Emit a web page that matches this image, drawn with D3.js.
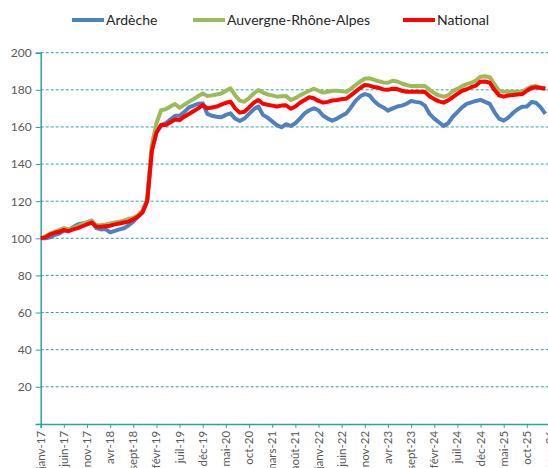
<!DOCTYPE html>
<html>
<head>
<meta charset="utf-8">
<script src="https://cdnjs.cloudflare.com/ajax/libs/d3/7.8.5/d3.min.js"></script>
<style>
  body { margin: 0; background: #fff; }
  svg { display: block; font-family: Lato, "Open Sans", sans-serif; }
</style>
</head>
<body>
<div id="chart"></div>
<script>
// month names used for the category axis (janv-17 ... mars-26)
const monthNames = ["janv", "févr", "mars", "avr", "mai", "juin", "juil", "août", "sept", "oct", "nov", "déc"];
const months = d3.range(111).map(i => monthNames[i % 12] + "-" + (17 + Math.floor(i / 12)));

const yTicks = [20, 40, 60, 80, 100, 120, 140, 160, 180, 200];

// series values, one per month from janv-17
const ardeche = [
  100, 100, 100.5, 101.8, 102.5, 104, 104.5, 106, 107.5, 108,
  108.5, 109.5, 105.5, 104.8, 105, 103.2, 104, 104.8, 105.4, 107,
  109, 111.5, 114, 120.5, 148, 157, 161, 162, 164, 166,
  166, 168, 170.5, 171.5, 172.5, 172.7, 167, 166, 165.5, 165.2,
  166.5, 167.3, 164.5, 163.2, 164.5, 167, 169.5, 171, 166.5, 165,
  163, 161, 159.8, 161.5, 160.5, 162, 164.5, 167.3, 169, 170,
  169, 166, 164.5, 163.4, 164.5, 166, 167.3, 170.5, 174, 176.5,
  177.7, 177, 174, 171.8, 170.5, 168.8, 170, 171, 171.5, 172.5,
  174, 173.5, 173.1, 171.5, 167, 164.5, 162.5, 160.5, 162, 165.5,
  168, 170.5, 172.4, 173.2, 174, 174.6, 173.5, 172.4, 168, 164.5,
  163.4, 165, 167.5, 169.5, 170.9, 171, 173.4, 173, 170.5, 167
];
const ara = [
  100, 101, 102.5, 103.5, 104.5, 105.5, 104.8, 105.5, 106.5, 107.7,
  108.5, 109.5, 107, 107.2, 107.5, 108, 108.5, 109, 109.5, 110.5,
  111, 112.5, 115, 121, 150, 162, 169, 169.5, 171, 172.4,
  170.3, 172, 173.5, 175, 176.5, 178, 176.7, 177, 177.5, 178,
  179.5, 180.8, 177, 174.2, 173.6, 175.5, 178, 179.9, 178.5, 177.5,
  177, 176.3, 176.5, 176.7, 174.5, 175.5, 177, 178.3, 179.5, 180.6,
  179.5, 178.5, 179, 179.5, 179.5, 179.2, 179, 180.5, 182.6, 184.5,
  186, 186.2, 185.3, 184.6, 184, 183.8, 184.9, 184.5, 183.4, 182.6,
  182, 182, 182.1, 182.1, 180, 178.2, 177, 176.3, 177, 179.3,
  180.5, 182, 183.1, 183.8, 185, 187.1, 187.3, 186.8, 183, 179.5,
  179, 179, 179, 179, 179, 180.5, 181.8, 182, 181.2, 180.8
];
const national = [
  100, 100.5, 102, 103, 103.5, 104.5, 103.8, 104.8, 105.5, 106.5,
  107.5, 108.5, 106.3, 106.2, 106.5, 106.8, 107.5, 108, 108.5, 109,
  110.2, 111.7, 114, 120, 147, 157, 161, 161, 162.5, 164,
  163.7, 165.5, 167, 168.5, 170, 171.8, 170, 170.5, 171, 172,
  173, 173.6, 170, 167.7, 168.2, 170.5, 173, 174.5, 172.5, 172,
  171.5, 171, 171.5, 171.7, 169.8, 171, 173, 174.5, 176, 175.5,
  174, 173.1, 173.5, 174.3, 174.5, 175, 175.2, 177, 179, 181,
  182.6, 182.3, 181.5, 181.1, 180.2, 180, 180.6, 180.4, 179.5, 179,
  179, 179, 179, 178.8, 176.5, 175, 173.8, 173.1, 174.3, 176,
  177.8, 179.5, 180.3, 181.4, 182.3, 184.4, 184.5, 183.8, 180, 177,
  176.3, 177, 177.2, 177.5, 177.7, 179.5, 181, 181.4, 181, 180.6
];

const series = [
  { name: "Ardèche", values: ardeche, color: "#4F81BD" },
  { name: "Auvergne-Rhône-Alpes", values: ara, color: "#9BBB59" },
  { name: "National", values: national, color: "#FF0000" }
];

const width = 548, height = 468;
const axisColor = "#2E9FB0";
const textColor = "#595959";

const x = d3.scaleLinear().domain([0, 110]).range([40.7, 40.7 + 110 * 4.63]);
const y = d3.scaleLinear().domain([0, 200]).range([423.9, 52.7]);

const svg = d3.select("#chart").append("svg")
  .attr("width", width)
  .attr("height", height);

// dashed gridlines
svg.append("g")
  .selectAll("line")
  .data(yTicks)
  .join("line")
  .attr("x1", x(0)).attr("x2", width + 10)
  .attr("y1", d => y(d)).attr("y2", d => y(d))
  .attr("stroke", axisColor)
  .attr("stroke-width", 1)
  .attr("stroke-dasharray", "3,2");

// y axis
const yAxis = svg.append("g")
  .attr("transform", `translate(${x(0)},0)`)
  .call(d3.axisLeft(y).tickValues([0].concat(yTicks)).tickSize(5).tickFormat(d => d === 0 ? "" : d));
yAxis.select(".domain").attr("stroke", axisColor).attr("stroke-width", 1.5);
yAxis.selectAll(".tick line").attr("stroke", axisColor);
yAxis.selectAll(".tick text")
  .attr("x", -9)
  .attr("fill", textColor)
  .style("font-size", "12px")
  .style("font-family", "Lato, sans-serif");

// x axis
const xAxis = svg.append("g")
  .attr("transform", `translate(0,${y(0)})`)
  .call(d3.axisBottom(x).tickValues(d3.range(0, 111, 5)).tickSize(4).tickFormat(""));
xAxis.select(".domain").attr("stroke", axisColor).attr("stroke-width", 1.5);
xAxis.selectAll(".tick line").attr("stroke", axisColor);

svg.append("g")
  .selectAll("text")
  .data(d3.range(0, 111, 5))
  .join("text")
  .attr("transform", d => `translate(${x(d)},${y(0) + 7}) rotate(-90)`)
  .attr("text-anchor", "end")
  .attr("dy", "0.35em")
  .attr("fill", textColor)
  .style("font-size", "11.5px")
  .text(d => months[d]);

// lines
const line = d3.line()
  .x((d, i) => x(i))
  .y(d => y(d));

svg.append("g")
  .selectAll("path")
  .data(series)
  .join("path")
  .attr("d", d => line(d.values))
  .attr("fill", "none")
  .attr("stroke", d => d.color)
  .attr("stroke-width", 4)
  .attr("stroke-linejoin", "round");

// legend
const legendPos = [72, 193, 403];
const legend = svg.append("g")
  .selectAll("g")
  .data(series)
  .join("g")
  .attr("transform", (d, i) => `translate(${legendPos[i]},20)`);
legend.append("line")
  .attr("x1", 0).attr("x2", 32)
  .attr("stroke", d => d.color)
  .attr("stroke-width", 4);
legend.append("text")
  .attr("x", 34)
  .attr("dy", "0.35em")
  .attr("fill", "#262626")
  .style("font-size", "14px")
  .text(d => d.name);
</script>
</body>
</html>
